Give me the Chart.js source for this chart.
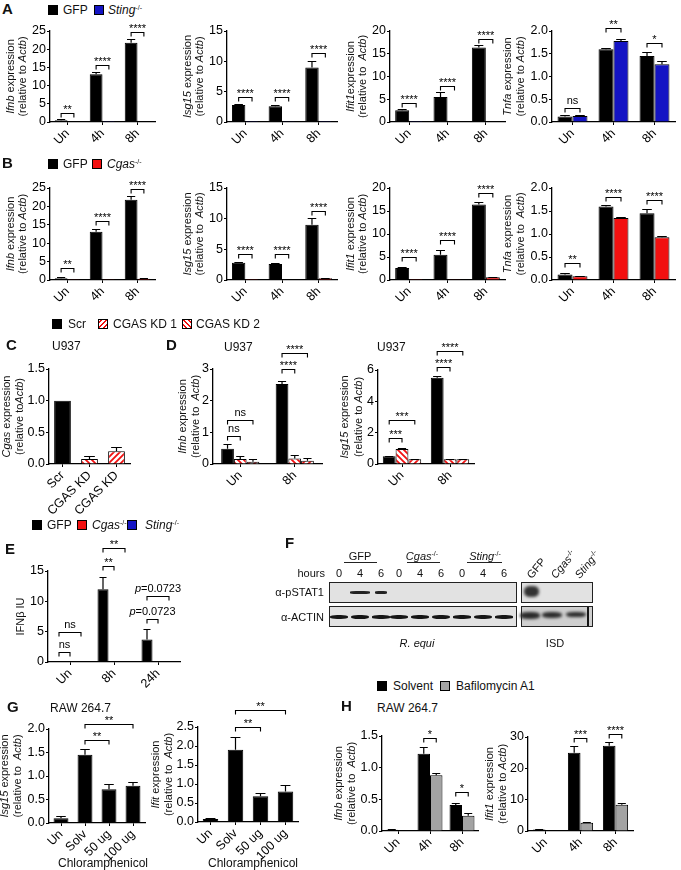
<!DOCTYPE html>
<html>
<head>
<meta charset="utf-8">
<script src="https://cdn.jsdelivr.net/npm/chart.js@4.4.0/dist/chart.umd.min.js"></script>
<style>
  body { margin: 0; background: #fff; font-family: "Liberation Sans", Arial, sans-serif; }
  #fig { position: relative; width: 681px; height: 870px; overflow: hidden; }
  .box { position: absolute; }
  .t { position: absolute; font-size: 12px; line-height: 1; white-space: nowrap; color: #111; }
  .t sup { font-size: 7px; vertical-align: 4px; line-height: 0; }
  .sw { position: absolute; width: 10px; height: 10px; box-sizing: border-box; border: 1px solid #000; }
  .line { position: absolute; background: #222; }
  .band { position: absolute; background: #151515; border-radius: 40%; filter: blur(0.6px); }
</style>
</head>
<body>
<div id="fig"></div>
<script>
// ---- data ----
const timeCats = ['Un', '4h', '8h'];

// A / B: GFP vs knockouts
const ifnbGFP = [0.5, 13.1, 21.8], ifnbGFPErr = [0.3, 0.7, 1.1];
const isg15GFP = [2.8, 2.6, 9.0], isg15GFPErr = [0.2, 0.2, 1.1];
const ifit1GFP = [2.6, 5.5, 16.4], ifit1GFPErr = [0.3, 1.0, 0.5];
const tnfaGFP = [0.12, 1.6, 1.45], tnfaGFPErr = [0.03, 0.03, 0.09];

const ifnbSting = [0.1, 0.3, 0.2];
const isg15Sting = [0.02, 0.03, 0.15];
const ifit1Sting = [0.02, 0.1, 0.1];
const tnfaSting = [0.13, 1.78, 1.27], tnfaStingErr = [0.02, 0.05, 0.08];

const ifnbCgas = [0.05, 0.05, 0.35], ifnbCgasErr = [0, 0, 0.1];
const isg15Cgas = [0.02, 0.05, 0.3], isg15CgasErr = [0, 0, 0.08];
const ifit1Cgas = [0.02, 0.05, 0.6], ifit1CgasErr = [0, 0, 0.1];
const tnfaCgas = [0.08, 1.35, 0.93], tnfaCgasErr = [0.01, 0.03, 0.03];

// significance: [category, value where bracket sits, label]
const sigA = [
  [[0, 2.5, '**'], [1, 15.7, '****'], [2, 24.7, '****']],
  [[0, 4.1, '****'], [1, 4.1, '****'], [2, 11.4, '****']],
  [[0, 4.2, '****'], [1, 7.9, '****'], [2, 18.2, '****']],
  [[0, 0.31, 'ns'], [1, 2.07, '**'], [2, 1.74, '*']]
];
const sigB = [
  [[0, 3.3, '**'], [1, 15.9, '****'], [2, 24.7, '****']],
  [[0, 4.2, '****'], [1, 4.2, '****'], [2, 11.2, '****']],
  [[0, 5.0, '****'], [1, 8.7, '****'], [2, 18.9, '****']],
  [[0, 0.37, '**'], [1, 1.8, '****'], [2, 1.74, '****']]
];

// C / D: U937 knockdown
const kdCats = ['Scr', 'CGAS KD', 'CGAS KD'];
const cgasKD = [1.0, 0.08, 0.2], cgasKDErr = [0, 0.04, 0.07];
const dCats = ['Un', '8h'];
const dIfnbScr = [0.48, 2.53], dIfnbScrErr = [0.14, 0.1];
const dIfnbKD1 = [0.16, 0.17], dIfnbKD1Err = [0.08, 0.1];
const dIfnbKD2 = [0.07, 0.1], dIfnbKD2Err = [0.09, 0.1];
const dIsg15Scr = [0.5, 5.5], dIsg15ScrErr = [0.03, 0.1];
const dIsg15KD1 = [0.95, 0.3], dIsg15KD1Err = [0.05, 0.05];
const dIsg15KD2 = [0.3, 0.3], dIsg15KD2Err = [0.03, 0.05];

// E: IFNb units
const eCats = ['Un', '8h', '24h'];
const ifnGFP = [0, 12, 3.7], ifnGFPErr = [0, 2.0, 1.8];
const ifnCgas = [0, 0, 0];
const ifnSting = [0, 0, 0];

// G: chloramphenicol
const chlorCats = ['Un', 'Solv', '50 ug', '100 ug'];
const chlorIsg15 = [0.1, 1.45, 0.72, 0.79], chlorIsg15Err = [0.05, 0.13, 0.12, 0.09];
const chlorIfit = [0.08, 1.9, 0.68, 0.8], chlorIfitErr = [0.02, 0.35, 0.09, 0.17];

// H: bafilomycin
const hIfnbSolv = [0.02, 1.22, 0.41], hIfnbSolvErr = [0.01, 0.1, 0.04];
const hIfnbBaf = [0.01, 0.88, 0.24], hIfnbBafErr = [0, 0.04, 0.04];
const hIfit1Solv = [0.5, 25, 27.2], hIfit1SolvErr = [0.1, 2.2, 1.2];
const hIfit1Baf = [0.2, 2.6, 8.4], hIfit1BafErr = [0.1, 0.3, 0.5];

// F: blot band strengths
const blotHours = ['0', '4', '6', '0', '4', '6', '0', '4', '6'];
const pstat1Band = [0, 1, 0.6, 0, 0, 0, 0, 0, 0];
const actinBand = [0.75, 1, 0.55, 0.8, 0.65, 0.95, 0.5, 0.9, 0.55];

// ---- drawing ----
const BLACK = '#000', BLUE = '#1414c4', RED = '#f21010', GRAY = '#a3a3a3';
const FONT = '"Liberation Sans", Arial, sans-serif';
Chart.defaults.font.family = FONT;
Chart.defaults.color = '#000';
const fig = document.getElementById('fig');

function stripes(dir) {
  const c = document.createElement('canvas');
  c.width = 6; c.height = 6;
  const g = c.getContext('2d');
  g.fillStyle = '#fff'; g.fillRect(0, 0, 6, 6);
  g.strokeStyle = RED; g.lineWidth = 1.8;
  g.beginPath();
  if (dir > 0) {
    g.moveTo(-1, 7); g.lineTo(7, -1); g.moveTo(-4, 4); g.lineTo(4, -4); g.moveTo(2, 10); g.lineTo(10, 2);
  } else {
    g.moveTo(-1, -1); g.lineTo(7, 7); g.moveTo(-4, 2); g.lineTo(4, 10); g.moveTo(2, -4); g.lineTo(10, 4);
  }
  g.stroke();
  return g.createPattern(c, 'repeat');
}
const KD1 = stripes(-1), KD2 = stripes(1);

const errPlugin = {
  id: 'err',
  afterDatasetsDraw(chart) {
    const ctx = chart.ctx, y = chart.scales.y;
    chart.data.datasets.forEach((ds, i) => {
      if (!ds.err) return;
      chart.getDatasetMeta(i).data.forEach((bar, j) => {
        const e = ds.err[j];
        if (!e) return;
        const top = Math.round(y.getPixelForValue(ds.data[j] + e)) + 0.5;
        const cap = bar.width * 0.32;
        ctx.save();
        ctx.strokeStyle = '#000'; ctx.lineWidth = 1.2;
        ctx.beginPath();
        ctx.moveTo(bar.x, bar.y); ctx.lineTo(bar.x, top);
        ctx.moveTo(bar.x - cap, top); ctx.lineTo(bar.x + cap, top);
        ctx.stroke();
        ctx.restore();
      });
    });
  }
};

function sigPlugin(list) {
  return {
    id: 'sig',
    afterDraw(chart) {
      const ctx = chart.ctx;
      list.forEach(([ca, da, cb, db, v, t]) => {
        const x1 = chart.getDatasetMeta(da).data[ca].x;
        const x2 = chart.getDatasetMeta(db).data[cb].x;
        const yy = Math.round(chart.scales.y.getPixelForValue(v)) + 0.5;
        ctx.save();
        ctx.strokeStyle = '#000'; ctx.lineWidth = 1.1;
        ctx.beginPath();
        ctx.moveTo(x1, yy + 4); ctx.lineTo(x1, yy); ctx.lineTo(x2, yy); ctx.lineTo(x2, yy + 4);
        ctx.stroke();
        ctx.fillStyle = '#000';
        ctx.textBaseline = 'alphabetic';
        const cx = (x1 + x2) / 2;
        if (t.startsWith('p=')) {
          ctx.font = 'italic 11px ' + FONT;
          const w1 = ctx.measureText('p').width;
          ctx.font = '11px ' + FONT;
          const w2 = ctx.measureText(t.slice(1)).width;
          const x = cx - (w1 + w2) / 2;
          ctx.textAlign = 'left';
          ctx.font = 'italic 11px ' + FONT; ctx.fillText('p', x, yy - 5);
          ctx.font = '11px ' + FONT; ctx.fillText(t.slice(1), x + w1, yy - 5);
        } else {
          ctx.font = '11px ' + FONT;
          ctx.textAlign = 'center';
          ctx.fillText(t, cx, t.includes('*') ? yy - 0.5 : yy - 5);
        }
        ctx.restore();
      });
    }
  };
}

// title string: parts wrapped in _..._ are italic
function titlePlugin(lines, offs) {
  return {
    id: 'ytitle',
    afterDraw(chart) {
      const ctx = chart.ctx, a = chart.chartArea;
      const cy = (a.top + a.bottom) / 2;
      lines.forEach((line, i) => {
        const segs = line.split('_').map((s, k) => [s, k % 2 === 1]).filter(s => s[0]);
        ctx.save();
        ctx.translate(a.left - offs[i], cy);
        ctx.rotate(-Math.PI / 2);
        let tot = 0;
        segs.forEach(([s, it]) => { ctx.font = (it ? 'italic ' : '') + '11px ' + FONT; tot += ctx.measureText(s).width; });
        let x = -tot / 2;
        ctx.textBaseline = 'middle'; ctx.fillStyle = '#111';
        segs.forEach(([s, it]) => {
          ctx.font = (it ? 'italic ' : '') + '11px ' + FONT;
          ctx.fillText(s, x, 0);
          x += ctx.measureText(s).width;
        });
        ctx.restore();
      });
    }
  };
}

function barChart(o) {
  const padTop = 46, yW = 58, xH = 50, padR = 6;
  const w = o.rx - o.ax + yW + padR, h = o.by - o.ty + padTop + xH;
  const div = document.createElement('div');
  div.className = 'box';
  div.style.left = (o.ax - yW) + 'px';
  div.style.top = (o.ty - padTop) + 'px';
  const cv = document.createElement('canvas');
  cv.width = w; cv.height = h;
  div.appendChild(cv);
  fig.appendChild(div);
  new Chart(cv, {
    type: 'bar',
    data: {
      labels: o.cats,
      datasets: o.sets.map(s => ({
        data: s.data, err: s.err, backgroundColor: s.bg,
        borderColor: '#000', borderWidth: 1,
        categoryPercentage: o.cp, barPercentage: o.bp || 1
      }))
    },
    options: {
      responsive: false, animation: false,
      layout: { padding: { top: padTop, right: padR, left: 0, bottom: 0 } },
      plugins: { legend: { display: false }, tooltip: { enabled: false } },
      scales: {
        x: {
          grid: { display: true, drawOnChartArea: false, offset: false, color: '#000', tickLength: 3 },
          border: { color: '#000', width: 1.3 },
          ticks: { color: '#000', font: { size: 12.5 }, maxRotation: 45, minRotation: 45, padding: 1, autoSkip: false },
          afterFit: s => { s.height = xH; }
        },
        y: {
          min: 0, max: o.max,
          grid: { display: true, drawOnChartArea: false, color: '#000', tickLength: 3 },
          border: { color: '#000', width: 1.3 },
          ticks: { stepSize: o.step, color: '#000', font: { size: 12.5 }, padding: 1,
                   callback: v => o.dec ? v.toFixed(o.dec) : v },
          afterFit: s => { s.width = yW; }
        }
      }
    },
    plugins: [errPlugin, sigPlugin(o.sig || []), titlePlugin(o.title, o.offs || [39, 27])]
  });
}

const pair = list => list.map(([c, v, t]) => [c, 0, c, 1, v, t]);

// ---- text helpers ----
function txt(x, y, html, opt = {}) {
  const d = document.createElement('div');
  d.className = 't';
  d.innerHTML = html;
  d.style.left = x + 'px';
  d.style.top = y + 'px';
  if (opt.size) d.style.fontSize = opt.size + 'px';
  if (opt.bold) d.style.fontWeight = 'bold';
  const tx = opt.align === 'center' ? '-50%' : opt.align === 'right' ? '-100%' : '0';
  d.style.transform = `translate(${tx},-50%)` + (opt.rot ? ` rotate(${opt.rot}deg)` : '');
  if (opt.rot) d.style.transformOrigin = 'left center';
  fig.appendChild(d);
  return d;
}
function sw(x, y, bg) {
  const d = document.createElement('div');
  d.className = 'sw';
  d.style.left = x + 'px'; d.style.top = y + 'px';
  d.style.background = bg;
  fig.appendChild(d);
}
function rect(x, y, w, h, cls, style = {}) {
  const d = document.createElement('div');
  d.className = cls;
  Object.assign(d.style, { left: x + 'px', top: y + 'px', width: w + 'px', height: h + 'px' }, style);
  fig.appendChild(d);
  return d;
}
const STR1 = 'repeating-linear-gradient(45deg,#fff 0 1.5px,' + RED + ' 1.5px 3.5px)';
const STR2 = 'repeating-linear-gradient(-45deg,#fff 0 1.5px,' + RED + ' 1.5px 3.5px)';
const STING = '<i>Sting</i><sup>-/-</sup>', CGAS = '<i>Cgas</i><sup>-/-</sup>';

// ---- panel A ----
txt(2, 8, 'A', { bold: true, size: 15 });
sw(48, 5, BLACK); txt(63, 10, 'GFP');
sw(94, 5, BLUE); txt(108, 10, STING);

const aTitles = [
  ['_Ifnb_ expression', '(relative to _Actb_)'],
  ['_Isg15_ expression', '(relative to _Actb_)'],
  ['_Ifit1_expression', '(relative to  _Actb_)'],
  ['_Tnfa_ expression', '(relative to _Actb_)']
];
const gfpSets = [[ifnbGFP, ifnbGFPErr], [isg15GFP, isg15GFPErr], [ifit1GFP, ifit1GFPErr], [tnfaGFP, tnfaGFPErr]];
const stingSets = [[ifnbSting, null], [isg15Sting, null], [ifit1Sting, null], [tnfaSting, tnfaStingErr]];
const cgasSets = [[ifnbCgas, ifnbCgasErr], [isg15Cgas, isg15CgasErr], [ifit1Cgas, ifit1CgasErr], [tnfaCgas, tnfaCgasErr]];
const rowAxes = [
  { ax: 50, rx: 155, max: 25, step: 5 },
  { ax: 227, rx: 337, max: 15, step: 5 },
  { ax: 390, rx: 505, max: 20, step: 5 },
  { ax: 552, rx: 675, max: 2, step: 0.5, dec: 1, offs: [44, 31] }
];
rowAxes.forEach((r, i) => {
  barChart(Object.assign({}, r, {
    ty: 31, by: 122, cats: timeCats, cp: 0.73, title: aTitles[i], sig: pair(sigA[i]),
    sets: [{ data: gfpSets[i][0], err: gfpSets[i][1], bg: BLACK }, { data: stingSets[i][0], err: stingSets[i][1], bg: BLUE }]
  }));
});

// ---- panel B ----
txt(2, 162, 'B', { bold: true, size: 15 });
sw(48, 159, BLACK); txt(63, 164, 'GFP');
sw(92, 159, RED); txt(107, 164, CGAS);
const bTitles = [
  ['_Ifnb_ expression', '(relative to _Actb_)'],
  ['_Isg15_ expression', '(relative to  _Actb_)'],
  ['_Ifit1_ expression', '(relative to _Actb_)'],
  ['_Tnfa_ expression', '(relative to  _Actb_)']
];
rowAxes.forEach((r, i) => {
  barChart(Object.assign({}, r, {
    ty: 188, by: 280, cats: timeCats, cp: 0.73, title: bTitles[i], sig: pair(sigB[i]),
    sets: [{ data: gfpSets[i][0], err: gfpSets[i][1], bg: BLACK }, { data: cgasSets[i][0], err: cgasSets[i][1], bg: RED }]
  }));
});

// ---- panel C / D ----
sw(52, 319, BLACK); txt(68, 324, 'Scr');
sw(98, 319, STR2); txt(113, 324, 'CGAS KD 1');
sw(182, 319, STR1); txt(196, 324, 'CGAS KD 2');
txt(6, 344, 'C', { bold: true, size: 15 });
txt(52, 346, 'U937');
barChart({
  ax: 49, ty: 369, by: 464, rx: 130, max: 1.5, step: 0.5, dec: 1, cats: kdCats, cp: 1, bp: 0.62,
  title: ['_Cgas_ expression', '(relative to_Actb_)'], offs: [42, 29],
  sets: [{ data: cgasKD, err: cgasKDErr, bg: [BLACK, KD1, KD2] }]
});
txt(166, 344, 'D', { bold: true, size: 15 });
txt(224, 347, 'U937');
barChart({
  ax: 213, ty: 369, by: 464, rx: 322, max: 3, step: 1, cats: dCats, cp: 0.7,
  title: ['_Ifnb_ expression', '(relative to  _Actb_)'], offs: [30, 17],
  sig: [[0, 0, 0, 1, 0.88, 'ns'], [0, 0, 0, 2, 1.39, 'ns'], [1, 0, 1, 1, 3.0, '****'], [1, 0, 1, 2, 3.5, '****']],
  sets: [{ data: dIfnbScr, err: dIfnbScrErr, bg: BLACK }, { data: dIfnbKD1, err: dIfnbKD1Err, bg: KD1 }, { data: dIfnbKD2, err: dIfnbKD2Err, bg: KD2 }]
});
txt(377, 347, 'U937');
barChart({
  ax: 378, ty: 370, by: 464, rx: 474, max: 6, step: 2, cats: dCats, cp: 0.8,
  title: ['_Isg15_ expression', '(relative to _Actb_)'], offs: [33, 19],
  sig: [[0, 0, 0, 1, 1.66, '***'], [0, 0, 0, 2, 2.8, '***'], [1, 0, 1, 1, 6.2, '****'], [1, 0, 1, 2, 7.2, '****']],
  sets: [{ data: dIsg15Scr, err: dIsg15ScrErr, bg: BLACK }, { data: dIsg15KD1, err: dIsg15KD1Err, bg: KD1 }, { data: dIsg15KD2, err: dIsg15KD2Err, bg: KD2 }]
});

// ---- panel E ----
sw(32, 520, BLACK); txt(47, 525, 'GFP');
sw(77, 520, RED); txt(92, 525, CGAS);
sw(127, 520, BLUE); txt(145, 525, STING);
txt(5, 548, 'E', { bold: true, size: 15 });
barChart({
  ax: 48, ty: 571, by: 662, rx: 180, max: 15, step: 5, cats: eCats, cp: 0.75,
  title: ['IFNβ IU'], offs: [27],
  sig: [[0, 0, 0, 1, 1.65, 'ns'], [0, 0, 0, 2, 4.9, 'ns'], [1, 0, 1, 1, 15.8, '**'], [1, 0, 1, 2, 18.8, '**'],
        [2, 0, 2, 1, 7.1, 'p=0.0723'], [2, 0, 2, 2, 10.9, 'p=0.0723']],
  sets: [{ data: ifnGFP, err: ifnGFPErr, bg: BLACK }, { data: ifnCgas, bg: RED }, { data: ifnSting, bg: BLUE }]
});

// ---- panel F (blot) ----
txt(285, 542, 'F', { bold: true, size: 15 });
const laneX = [339, 360, 381, 399, 420, 441, 462, 483, 504];
[['GFP', 360, 344, 377], [CGAS, 422, 407, 440], [STING, 485, 467, 502]].forEach(([l, cx, x1, x2]) => {
  txt(cx, 556, l, { align: 'center', size: 11 });
  rect(x1, 562, x2 - x1, 1.2, 'line');
});
txt(325, 573, 'hours', { align: 'right', size: 11 });
blotHours.forEach((hh, i) => txt(laneX[i], 573, hh, { align: 'center', size: 11 }));
txt(324, 592, 'α-pSTAT1', { align: 'right', size: 11 });
txt(324, 617, 'α-ACTIN', { align: 'right', size: 11 });
const boxStyle = { position: 'absolute', background: '#e2e2e2', border: '1.3px solid #222', boxSizing: 'border-box' };
rect(329, 582, 188, 21, '', boxStyle);
rect(329, 606, 188, 21, '', boxStyle);
rect(521, 582, 72, 21, '', boxStyle);
rect(521, 606, 72, 21, '', Object.assign({}, boxStyle, { background: '#cfcfcf' }));
pstat1Band.forEach((s, i) => {
  if (s) rect(laneX[i] - 10 * s, 591, 20 * s, 2.5, 'band', { borderRadius: '30%', filter: 'blur(0.5px)', background: '#222' });
});
actinBand.forEach((s, i) => rect(laneX[i] - 9, 616 - 1.2 * s, 18, 2 + 2.5 * s, 'band'));
rect(524, 586, 15, 11, 'band', { background: '#333', filter: 'blur(1.5px)' });
[530, 552, 576].forEach((x, i) => rect(x - 10, 612, 20, 7 - i, 'band', { background: '#2a2a2a', filter: 'blur(1.4px)' }));
rect(587, 607, 2, 19, 'band', { borderRadius: 0 });
txt(529, 577, 'GFP', { size: 11, rot: -50 });
txt(553, 577, CGAS, { size: 11, rot: -50 });
txt(577, 577, STING, { size: 11, rot: -50 });
txt(417, 643, '<i>R. equi</i>', { align: 'center', size: 11 });
txt(555, 643, 'ISD', { align: 'center', size: 11 });

// ---- panel G ----
txt(7, 706, 'G', { bold: true, size: 15 });
txt(50, 708, 'RAW 264.7');
barChart({
  ax: 49, ty: 729, by: 823, rx: 145, max: 2, step: 0.5, dec: 1, cats: chlorCats, cp: 1, bp: 0.62,
  title: ['_Isg15_ expression', '(relative to  _Actb_)'], offs: [44, 31],
  sig: [[1, 0, 2, 0, 1.77, '**'], [1, 0, 3, 0, 2.1, '**']],
  sets: [{ data: chlorIsg15, err: chlorIsg15Err, bg: BLACK }]
});
txt(103, 863, 'Chloramphenicol', { align: 'center' });
barChart({
  ax: 198, ty: 727, by: 822, rx: 298, max: 2.5, step: 0.5, dec: 1, cats: chlorCats, cp: 1, bp: 0.62,
  title: ['_Ifit_ expression', '(relative to  _Actb_)'], offs: [42, 29],
  sig: [[1, 0, 2, 0, 2.5, '**'], [1, 0, 3, 0, 2.95, '**']],
  sets: [{ data: chlorIfit, err: chlorIfitErr, bg: BLACK }]
});
txt(253, 863, 'Chloramphenicol', { align: 'center' });

// ---- panel H ----
sw(377, 681, BLACK); txt(393, 686, 'Solvent');
sw(440, 681, GRAY); txt(456, 686, 'Bafilomycin A1');
txt(341, 705, 'H', { bold: true, size: 15 });
txt(377, 708, 'RAW 264.7');
barChart({
  ax: 382, ty: 736, by: 831, rx: 478, max: 1.5, step: 0.5, dec: 1, cats: timeCats, cp: 0.78,
  title: ['_Ifnb_ expression', '(relative to  _Actb_)'], offs: [43, 30],
  sig: pair([[1, 1.47, '*'], [2, 0.62, '*']]),
  sets: [{ data: hIfnbSolv, err: hIfnbSolvErr, bg: BLACK }, { data: hIfnbBaf, err: hIfnbBafErr, bg: GRAY }]
});
barChart({
  ax: 528, ty: 737, by: 831, rx: 633, max: 30, step: 10, cats: timeCats, cp: 0.72,
  title: ['_Ifit1_ expression', '(relative to _Actb_)'], offs: [38, 25],
  sig: pair([[1, 29.7, '***'], [2, 31, '****']]),
  sets: [{ data: hIfit1Solv, err: hIfit1SolvErr, bg: BLACK }, { data: hIfit1Baf, err: hIfit1BafErr, bg: GRAY }]
});
</script>
</body>
</html>
